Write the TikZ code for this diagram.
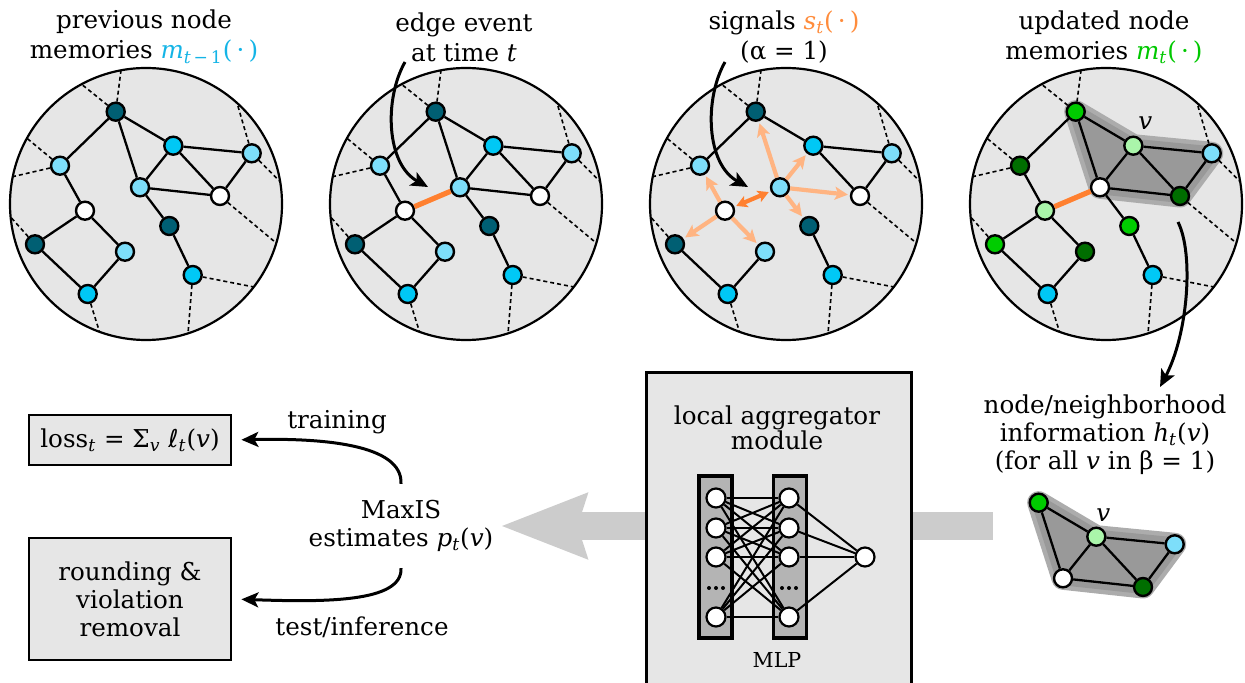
\documentclass[tikz,border=0pt]{standalone}
\usepackage{fontspec}
\setmainfont{DejaVu Serif}
\newfontfamily\ellfont{DejaVu Sans}
\usepackage{xcolor}
\usepackage{tikz}
\usetikzlibrary{positioning, calc, arrows.meta}
\definecolor{discgray}{RGB}{230,230,230}
\definecolor{memdark}{RGB}{0,95,115}
\definecolor{memcyan}{RGB}{0,200,245}
\definecolor{memlight}{RGB}{125,222,250}
\definecolor{newgreen}{RGB}{0,204,0}
\definecolor{newdark}{RGB}{0,110,0}
\definecolor{newlight}{RGB}{170,245,170}
\definecolor{eventorange}{RGB}{255,128,48}
\definecolor{signalorange}{RGB}{255,180,130}
\definecolor{hullgray}{RGB}{153,153,153}
\definecolor{hullrim}{RGB}{172,172,172}
\definecolor{flowgray}{RGB}{204,204,204}
\definecolor{layergray}{RGB}{180,180,180}
\definecolor{prevtext}{RGB}{20,180,230}
\definecolor{signaltext}{RGB}{255,140,60}
\definecolor{newtext}{RGB}{0,200,0}

\tikzset{
  disc/.style={draw=black, fill=discgray, line width=1.1pt},
  mem/.style={circle, draw=black, line width=1.2pt, minimum size=9pt, inner sep=0pt},
  link/.style={line width=1.15pt},
  cutline/.style={line width=0.8pt, dash pattern=on 2pt off 1.5pt},
  eventlink/.style={line width=2.6pt, eventorange},
  signalarrow/.style={line width=2.1pt, signalorange, -{Stealth[length=6.5pt,width=6.5pt,inset=1.5pt]}, shorten >=1pt},
  bothways/.style={line width=2.1pt, eventorange, {Stealth[length=5.5pt,width=6pt,inset=1.3pt]}-{Stealth[length=5.5pt,width=6pt,inset=1.3pt]}, shorten <=1pt, shorten >=1pt},
  pointer/.style={line width=1.5pt, -{Stealth[length=8.5pt,width=7.5pt,inset=2pt]}},
  hullrimline/.style={draw=hullrim, line width=11.5pt, line join=round},
  hullbody/.style={draw=hullgray, fill=hullgray, line width=7pt, line join=round},
  toplabel/.style={align=center, font=\fontsize{12.3}{15}\selectfont},
  box/.style={draw=black, fill=discgray, line width=1.4pt, align=center},
  bigflow/.style={flowgray, line width=14pt},
  mlplayer/.style={draw=black, fill=layergray, line width=1.7pt, minimum width=16.5pt, minimum height=81pt},
  unitnode/.style={circle, draw=black, fill=white, line width=1.1pt, minimum size=9.5pt, inner sep=0pt},
  mlplink/.style={line width=1pt},
}

\newcommand{\alllinks}{A/B, A/C, A/E, C/D, C/E, C/F, D/F, E/F, E/H, H/L, B/G, G/I, G/J, I/K, J/K}
\newcommand{\keptlinks}{A/B, A/C, C/D, C/F, D/F, H/L, I/K, J/K}

% coordinates of the twelve memory nodes
\newcommand{\memspots}[3]{%
  \begin{scope}[shift={(#2,#3)}]
    \foreach \n/\x/\y in {A/-30.3/-92.3, B/-86/-38.3, C/27.3/-58.3, D/105.7/-50.7,
      E/-6/-16.7, F/74/-8, G/-61/6.7, H/23.3/22, I/-111/40.3, J/-21/47.7,
      K/-58.3/90, L/46.7/71}
      \coordinate (#1-\n) at (\x,\y);
  \end{scope}}

% nodes and the dashed cuts to the rim
\newcommand{\memnodes}[3]{%
  \foreach \n/\c in {#3}
    \node[mem, fill=\c] (#1\n) at (#1-\n) {};
  \begin{scope}[shift={(#2,204)}]
    \foreach \n/\ang [count=\i] in {A/-100.6, A/-118.3, B/-151.1, B/-168.4, I/174.5,
      K/110, L/72, L/37.6, F/16.7, D/-48, D/-9.5} {
      \coordinate (#1r\i) at (\ang:136);
      \draw[cutline] (#1\n) -- (#1r\i);
    }
  \end{scope}}

\begin{document}
\begin{tikzpicture}[x=0.5pt, y=-0.5pt, font=\fontsize{12.3}{14}\selectfont]
\useasboundingbox (0,0) rectangle (1245,683);

% previous memories
\draw[disc] (146,204) circle (136);
\memspots{p}{146}{204}
\memnodes{p}{146}{A/memdark, B/memlight, C/memcyan, D/memlight, E/memlight, F/white,
  G/white, H/memdark, I/memdark, J/memlight, K/memcyan, L/memcyan}
\foreach \na/\nb in \alllinks \draw[link] (p\na) -- (p\nb);
\node[toplabel] (plabel) at (144,37) {previous node\\memories \textcolor{prevtext}{\textit{m}\textsubscript{\textit{t}\,−\,1}(\,·\,)}};

% edge event
\draw[disc] (466,204) circle (136);
\memspots{e}{466}{204}
\memnodes{e}{466}{A/memdark, B/memlight, C/memcyan, D/memlight, E/memlight, F/white,
  G/white, H/memdark, I/memdark, J/memlight, K/memcyan, L/memcyan}
\foreach \na/\nb in \alllinks \draw[link] (e\na) -- (e\nb);
\draw[eventlink] (eG) -- (eE);
\node[toplabel] (elabel) at (464,37) {edge event\\at time \textit{t}};
\coordinate (ecue) at (405,62);
\coordinate (etip) at (428,187);
\draw[pointer] (ecue) .. controls (384,99) and (386,164) .. (etip);

% signals
\draw[disc] (786,204) circle (136);
\memspots{s}{786}{204}
\memnodes{s}{786}{A/memdark, B/memlight, C/memcyan, D/memlight, E/memlight, F/white,
  G/white, H/memdark, I/memdark, J/memlight, K/memcyan, L/memcyan}
\foreach \na/\nb in \keptlinks \draw[link] (s\na) -- (s\nb);
\foreach \na/\nb in {E/A, E/C, E/F, E/H, G/B, G/I, G/J}
  \draw[signalarrow] (s\na) -- (s\nb);
\draw[bothways] (sG) -- (sE);
\node[toplabel] (slabel) at (784,37) {signals \textcolor{signaltext}{\textit{s}\textsubscript{\textit{t}}(\,·\,)}\\(α = 1)};
\coordinate (scue) at (725,62);
\coordinate (stip) at (748,187);
\draw[pointer] (scue) .. controls (704,99) and (706,164) .. (stip);

% updated memories
\draw[disc] (1106,204) circle (136);
\memspots{u}{1106}{204}
\draw[hullrimline] (u-A) -- (u-C) -- (u-D) -- (u-F) -- (u-E) -- cycle;
\draw[hullbody] (u-A) -- (u-C) -- (u-D) -- (u-F) -- (u-E) -- cycle;
\memnodes{u}{1106}{A/newgreen, B/newdark, C/newlight, D/memlight, E/white, F/newdark,
  G/newlight, H/newgreen, I/newgreen, J/newdark, K/memcyan, L/memcyan}
\foreach \na/\nb in \alllinks \draw[link] (u\na) -- (u\nb);
\draw[eventlink] (uG) -- (uE);
\node (uv) at ($(u-C)+(12,-23)$) {\textit{v}};
\node[toplabel] (ulabel) at (1104,37) {updated node\\memories \textcolor{newtext}{\textit{m}\textsubscript{\textit{t}}(\,·\,)}};
\coordinate (ucue) at (1178,222);
\coordinate (utip) at (1160,387);
\draw[pointer] (ucue) .. controls (1194,254) and (1188,334) .. (utip);

% neighbourhood of v
\node[align=center] (nbrtext) at (1105,435) {node/neighborhood\\information \textit{h}\textsubscript{\textit{t}}(\textit{v})\\(for all \textit{v} in β = 1)};
\memspots{n}{1069}{595}
\draw[hullrimline] (n-A) -- (n-C) -- (n-D) -- (n-F) -- (n-E) -- cycle;
\draw[hullbody] (n-A) -- (n-C) -- (n-D) -- (n-F) -- (n-E) -- cycle;
\foreach \n/\c in {A/newgreen, C/newlight, D/memlight, E/white, F/newdark}
  \node[mem, fill=\c] (n\n) at (n-\n) {};
\foreach \na/\nb in {A/C, A/E, C/D, C/E, C/F, D/F, E/F} \draw[link] (n\na) -- (n\nb);
\node (nv) at ($(n-C)+(7,-22)$) {\textit{v}};

% estimates and outputs
\node[align=center, inner ysep=8pt] (maxis) at (401,526) {MaxIS\\estimates \textit{p}\textsubscript{\textit{t}}(\textit{v})};
\node[box, minimum width=101pt, minimum height=25pt] (loss) at (130,440) {loss\textsubscript{\textit{t}} = Σ\textsubscript{\textit{v}} {\ellfont\itshape ℓ}\textsubscript{\textit{t}}(\textit{v})};
\node[box, minimum width=101pt, minimum height=61pt] (round) at (130,599) {rounding \&\\violation\\removal};
\draw[pointer, shorten >=4.5pt] (maxis.north) .. controls +(2,-40) and +(89,-2) .. (loss.east);
\draw[pointer, shorten >=4.5pt] (maxis.south) .. controls +(2,35) and +(89,3) .. (round.east);
\node (training) at (337,422) {training};
\node (testinf) at (362,627) {test/inference};

% aggregator
\coordinate (aggnw) at (645,371);
\draw[bigflow, -{Stealth[length=42.5pt, width=31pt, inset=4pt]}] (aggnw |- maxis) -- (maxis.east);
\draw[bigflow] (910,526) -- ++(83,0);
\node[box, minimum width=132.5pt, minimum height=170pt, anchor=north west] (agg) at (aggnw) {};
\node[align=center, font=\fontsize{12.3}{12.5}\selectfont] (aggtitle) at (777,428) {local aggregator\\module};
\node[mlplayer] (lcol) at (715.5,557) {};
\node[mlplayer] (rcol) at (790,557) {};
\foreach \k/\y in {1/498, 2/528, 3/557, 4/617} {
  \node[unitnode] (in\k) at (716,\y) {};
  \node[unitnode] (hid\k) at (789,\y) {};
}
\node[unitnode] (out) at (865,557) {};
\foreach \k in {1,...,4} {
  \foreach \j in {1,...,4} \draw[mlplink] (in\k) -- (hid\j);
  \draw[mlplink] (hid\k) -- (out);
}
\foreach \x in {716,789} \foreach \dx in {-7,0,7} \fill (\x+\dx,588) circle (2);
\node[font=\fontsize{10.3}{12}\selectfont] (mlp) at (777,660) {MLP};
\end{tikzpicture}
\end{document}
